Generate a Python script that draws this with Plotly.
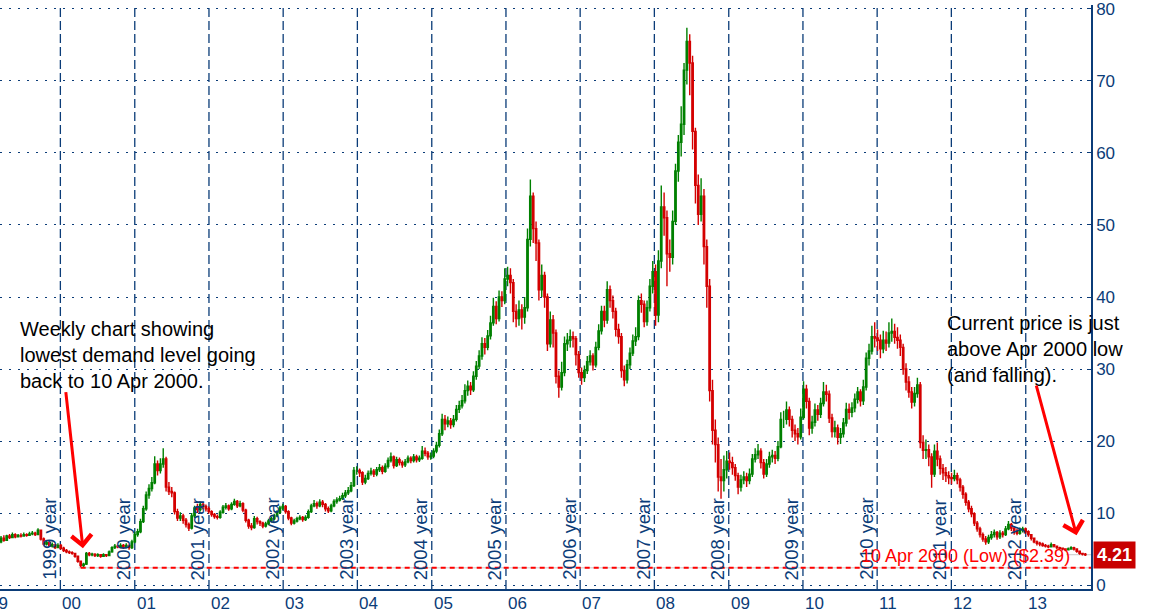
import pandas as pd
import plotly.graph_objects as go

# biweekly candles, first one on 15 Mar 1999, one row per calendar year
first_open = 6.0
closes = [
  6.5, 6.2, 6.8, 6.6, 7.0, 6.7, 6.9, 6.8, 7.0, 6.9, 7.1, 7.2, 7.0, 7.6, 6.4, 5.7, 5.9, 5.4, 5.6, 5.2, 5.5,  # 1999
  5.1, 4.8, 4.6, 4.5, 4.4, 4.0, 3.3, 2.7, 2.9, 4.4, 4.2, 4.3, 4.1, 4.2, 4.0, 4.2, 4.1, 4.6, 5.2, 5.4, 5.3, 5.5, 5.3, 5.5, 5.2, 6.0,  # 2000
  7.0, 7.4, 8.8, 10.6, 12.5, 13.4, 14.2, 16.8, 15.9, 16.8, 17.5, 13.6, 13.0, 12.8, 10.2, 9.3, 9.6, 9.0, 8.4, 7.9, 9.6, 10.7, 10.5, 11.2, 10.9, 10.6,  # 2001
  10.2, 9.8, 9.5, 9.4, 10.1, 10.8, 11.0, 10.6, 11.2, 11.6, 11.0, 11.3, 10.4, 9.0, 8.2, 8.0, 9.2, 8.8, 8.6, 8.2, 8.5, 8.9, 9.2, 9.6, 10.1, 10.7,  # 2002
  10.9, 10.2, 9.3, 8.6, 8.9, 9.2, 9.4, 9.1, 9.4, 10.2, 11.0, 11.3, 11.0, 11.5, 11.2, 10.6, 10.3, 11.0, 11.6, 11.8, 12.0, 12.4, 12.8, 13.1, 13.8, 15.9,  # 2003
  15.9, 15.6, 14.3, 14.8, 15.5, 15.8, 15.4, 16.0, 16.3, 15.8, 16.5, 17.3, 17.8, 16.6, 17.4, 17.0, 16.7, 17.1, 17.6, 17.3, 17.8, 17.4, 17.6, 18.6, 18.3, 17.8,  # 2004
  17.9, 18.6, 19.4, 21.0, 23.0, 22.4, 22.8, 22.3, 23.0, 24.4, 24.9, 25.6, 27.0, 27.6, 27.1, 29.0, 30.4, 31.8, 33.5, 33.0, 34.6, 36.4, 38.7, 37.0, 40.0, 39.5,  # 2005
  42.5, 43.0, 42.0, 38.0, 37.0, 38.2, 37.2, 38.5, 48.0, 54.0, 49.5, 47.5, 41.0, 43.0, 40.0, 33.5, 36.8, 35.0, 29.0, 27.5, 29.5, 33.5, 34.0, 34.5, 34.2, 32.0,  # 2006
  29.5, 28.8, 29.8, 31.0, 31.8, 30.6, 33.0, 35.3, 38.0, 36.8, 41.0, 39.5, 38.0, 35.5, 34.5, 29.8, 28.5, 30.6, 32.2, 33.9, 34.5, 39.5, 39.0, 36.6, 38.5, 41.5,  # 2007
  43.5, 37.5, 45.0, 52.5, 51.0, 46.0, 45.5, 50.5, 57.5, 61.5, 64.0, 71.5, 75.5, 72.5, 63.0, 55.5, 51.5, 54.0, 47.0, 41.5, 27.0, 21.5, 19.5, 15.0, 14.5, 16.0, 17.2,  # 2008
  17.0, 16.3, 15.2, 13.6, 14.6, 15.0, 14.5, 15.4, 17.5, 18.1, 18.6, 17.0, 15.4, 16.8, 17.8, 18.0, 17.6, 19.2, 23.0, 23.0, 24.3, 23.0, 21.5, 21.0, 20.6, 23.3,  # 2009
  27.2, 25.5, 21.8, 22.6, 24.3, 23.7, 25.2, 26.8, 26.5, 23.2, 21.3, 21.8, 20.5, 21.0, 22.5, 24.4, 24.0, 24.6, 25.8, 26.8, 25.6, 27.5, 31.5, 32.5, 34.5, 34.3,  # 2010
  34.0, 32.8, 34.0, 33.6, 35.0, 35.2, 34.4, 34.0, 33.0, 30.0, 28.2, 26.8, 25.4, 26.6, 27.8, 19.8, 18.7, 18.8, 17.8, 15.4, 18.6, 17.5, 16.2, 15.6, 15.2, 14.9,  # 2011
  14.8, 15.2, 14.6, 13.6, 12.6, 11.5, 10.6, 9.9, 8.6, 7.8, 7.0, 6.4, 6.0, 6.6, 7.0, 7.3, 6.7, 7.2, 7.0, 7.8, 8.4, 7.9, 7.4, 7.2, 7.6, 7.8,  # 2012
  7.4, 7.0, 6.5, 6.0, 5.8, 5.7, 5.5, 5.4, 5.3, 5.6, 5.4, 5.2, 5.1, 5.0, 4.9, 5.0, 5.2, 5.0, 4.7, 4.4, 4.3, 4.21,  # 2013
]
highs = [
  6.8, 6.9, 7.0, 7.1, 7.3, 7.2, 7.1, 7.2, 7.3, 7.2, 7.4, 7.5, 7.4, 7.9, 7.7, 6.6, 6.2, 6.0, 5.9, 5.7, 5.8,
  5.7, 5.3, 5.0, 4.8, 4.7, 4.5, 4.1, 3.4, 3.1, 4.6, 4.6, 4.5, 4.4, 4.4, 4.3, 4.4, 4.3, 4.8, 5.4, 5.7, 5.6, 5.8, 5.7, 5.8, 5.6, 6.3,
  7.4, 7.8, 9.2, 11.0, 13.0, 14.0, 15.0, 17.9, 17.3, 17.6, 19.0, 17.8, 14.3, 13.6, 13.0, 10.6, 10.1, 9.9, 9.3, 8.7, 10.0, 11.0, 11.3, 11.6, 11.5, 11.2,
  10.9, 10.4, 10.0, 9.8, 10.4, 11.1, 11.4, 11.2, 11.5, 12.0, 11.8, 11.7, 11.5, 10.6, 9.2, 8.6, 9.6, 9.5, 9.0, 8.8, 8.8, 9.2, 9.5, 9.9, 10.4, 11.0,
  11.3, 11.1, 10.4, 9.5, 9.2, 9.5, 9.7, 9.6, 9.7, 10.5, 11.3, 11.8, 11.6, 11.9, 11.8, 11.4, 10.9, 11.3, 11.9, 12.2, 12.4, 12.8, 13.2, 13.6, 14.3, 16.4,
  16.5, 16.2, 15.8, 15.3, 15.9, 16.3, 16.1, 16.4, 16.8, 16.6, 16.9, 17.7, 18.4, 18.0, 17.8, 17.7, 17.3, 17.5, 18.0, 17.9, 18.2, 18.1, 18.0, 19.3, 19.1, 18.6,
  18.4, 19.0, 19.9, 21.6, 23.8, 23.6, 23.4, 23.2, 23.6, 25.0, 25.6, 26.4, 27.9, 28.4, 28.2, 29.7, 31.1, 32.6, 34.4, 34.3, 35.4, 37.4, 39.9, 39.4, 40.9, 40.8,
  44.0, 44.2, 44.0, 42.5, 39.0, 39.5, 39.0, 40.0, 49.5, 56.3, 54.5, 50.5, 48.0, 44.5, 43.5, 40.5, 38.0, 37.5, 35.5, 29.8, 31.0, 34.5, 35.0, 35.5, 35.2, 34.6,
  32.5, 30.2, 30.5, 31.8, 32.6, 32.2, 33.8, 36.2, 38.8, 38.8, 42.2, 41.6, 40.2, 38.5, 36.3, 35.0, 30.5, 31.3, 33.0, 34.8, 35.8, 40.2, 40.5, 39.5, 39.5, 42.5,
  45.0, 44.5, 46.5, 55.5, 54.5, 52.0, 48.0, 52.0, 58.5, 62.5, 66.5, 72.5, 77.4, 76.5, 73.5, 63.5, 57.0, 56.5, 55.0, 48.0, 42.5, 28.5, 23.0, 20.5, 17.5, 18.0, 18.6,
  18.4, 17.8, 16.8, 15.6, 15.3, 15.8, 15.6, 16.2, 18.2, 19.0, 19.6, 19.0, 17.5, 17.5, 18.5, 18.8, 18.6, 20.0, 24.0, 24.2, 25.5, 24.8, 23.5, 22.3, 21.8, 24.5,
  28.3, 27.8, 26.0, 23.5, 25.2, 25.0, 26.0, 28.2, 27.8, 27.0, 23.8, 22.8, 22.3, 21.8, 23.2, 25.3, 25.2, 25.4, 26.6, 27.5, 27.2, 28.5, 32.3, 33.5, 36.0, 36.5,
  35.5, 34.8, 35.3, 35.2, 36.5, 37.0, 36.3, 35.8, 34.8, 33.5, 30.8, 29.0, 27.5, 27.5, 28.8, 28.2, 20.8, 20.2, 19.5, 18.3, 19.5, 19.8, 18.0, 16.8, 16.4, 15.8,
  15.6, 16.0, 15.6, 14.9, 13.9, 12.9, 11.8, 11.0, 10.1, 8.9, 8.1, 7.3, 6.8, 7.0, 7.5, 7.7, 7.5, 7.6, 7.5, 8.2, 8.9, 8.6, 8.1, 7.8, 8.0, 8.1,
  8.0, 7.6, 7.1, 6.6, 6.2, 6.0, 5.9, 5.7, 5.6, 5.9, 5.7, 5.5, 5.3, 5.2, 5.1, 5.2, 5.4, 5.3, 5.1, 4.8, 4.5, 4.45,
]
lows = [
  5.8, 6.0, 6.1, 6.4, 6.5, 6.5, 6.6, 6.6, 6.7, 6.7, 6.8, 6.9, 6.8, 6.9, 6.2, 5.5, 5.5, 5.3, 5.2, 5.0, 5.1,
  4.9, 4.6, 4.4, 4.3, 4.2, 3.8, 3.1, 2.39, 2.5, 2.8, 4.0, 4.0, 3.9, 3.9, 3.8, 3.9, 3.9, 4.0, 4.5, 5.0, 5.1, 5.1, 5.0, 5.1, 4.9, 5.0,
  5.8, 6.7, 7.2, 8.6, 10.3, 12.0, 13.0, 14.0, 15.2, 15.5, 16.3, 13.0, 12.5, 12.2, 9.8, 8.9, 8.9, 8.5, 8.0, 7.5, 7.7, 9.3, 10.0, 10.2, 10.5, 10.2,
  9.9, 9.5, 9.2, 9.1, 9.2, 9.9, 10.5, 10.3, 10.4, 11.0, 10.7, 10.8, 10.1, 8.7, 7.8, 7.6, 7.8, 8.4, 8.2, 7.9, 8.0, 8.3, 8.7, 9.0, 9.4, 9.9,
  10.4, 9.9, 9.0, 8.3, 8.4, 8.7, 9.0, 8.8, 8.9, 9.2, 10.0, 10.8, 10.6, 10.8, 10.8, 10.2, 10.0, 10.1, 10.8, 11.3, 11.6, 11.8, 12.1, 12.5, 12.9, 13.6,
  15.3, 15.0, 13.9, 14.0, 14.6, 15.2, 15.0, 15.1, 15.7, 15.4, 15.6, 16.2, 17.0, 16.2, 16.4, 16.6, 16.3, 16.4, 16.9, 16.9, 17.0, 17.0, 17.1, 17.4, 17.9, 17.4,
  17.4, 17.6, 18.3, 19.1, 20.7, 21.5, 21.9, 21.7, 21.9, 22.7, 23.9, 24.5, 25.2, 26.3, 26.4, 26.8, 28.5, 30.0, 31.3, 32.0, 32.6, 34.1, 36.0, 36.2, 36.6, 38.6,
  39.0, 41.5, 40.5, 36.5, 35.8, 36.0, 35.5, 36.3, 38.0, 47.0, 47.5, 45.0, 39.5, 40.0, 38.5, 32.5, 33.0, 33.0, 28.0, 26.0, 27.0, 29.0, 32.5, 33.0, 33.0, 30.5,
  28.8, 27.8, 28.2, 29.3, 30.5, 29.8, 30.2, 32.6, 34.8, 35.8, 36.3, 38.5, 37.0, 34.5, 33.5, 28.8, 27.6, 28.0, 30.0, 31.8, 33.2, 34.0, 37.8, 35.8, 36.0, 38.0,
  40.5, 36.0, 36.5, 44.0, 48.5, 41.5, 43.5, 44.5, 50.0, 56.0, 59.5, 62.5, 69.5, 68.0, 60.5, 53.0, 50.0, 50.5, 44.5, 38.5, 25.5, 19.5, 17.0, 13.0, 12.0, 13.0, 14.8,
  16.0, 15.3, 14.5, 12.6, 13.0, 14.0, 13.6, 14.0, 15.0, 17.0, 17.5, 16.2, 14.8, 15.0, 16.3, 17.0, 16.8, 17.2, 19.0, 21.8, 22.3, 22.0, 20.5, 20.0, 19.5, 20.2,
  23.0, 24.5, 20.8, 21.0, 22.0, 22.8, 23.2, 24.8, 25.5, 22.5, 20.5, 20.5, 19.5, 19.6, 20.5, 22.0, 23.0, 23.3, 24.0, 25.2, 24.8, 25.0, 27.0, 30.5, 32.0, 33.0,
  32.5, 31.5, 32.2, 32.5, 33.0, 33.8, 33.5, 32.8, 31.8, 29.2, 27.0, 26.0, 24.5, 24.8, 26.0, 19.0, 17.5, 17.5, 16.5, 13.5, 15.0, 16.5, 15.3, 14.6, 14.3, 14.0,
  14.0, 14.4, 14.0, 13.0, 12.0, 11.0, 10.1, 9.4, 8.2, 7.4, 6.6, 6.0, 5.6, 5.7, 6.3, 6.6, 6.3, 6.4, 6.6, 6.8, 7.6, 7.5, 7.0, 6.9, 7.0, 7.3,
  7.1, 6.7, 6.2, 5.8, 5.5, 5.4, 5.3, 5.2, 5.1, 5.2, 5.2, 5.0, 4.9, 4.8, 4.7, 4.8, 4.9, 4.8, 4.5, 4.2, 4.1, 4.05,
]
opens = [first_open] + closes[:-1]
dates = pd.date_range("1999-03-15", periods=len(closes), freq="14D")

low_date = "2000-04-10"
low_price = 2.39
last_price = 4.21
label_years = list(range(1999, 2013))
tick_years = list(range(2000, 2014))

navy = "#0b3c78"
green = "#008000"
red = "#d40000"
font = "Arial, 'Liberation Sans', sans-serif"

fig = go.Figure(go.Candlestick(
  x=dates, open=opens, high=highs, low=lows, close=closes,
  increasing=dict(line=dict(color=green, width=1.4), fillcolor=green),
  decreasing=dict(line=dict(color=red, width=1.4), fillcolor=red),
  whiskerwidth=0, hoverinfo="skip", showlegend=False,
))

shapes = []
for y in tick_years:
  shapes.append(dict(type="line", xref="x", yref="paper", x0=f"{y}-01-01", x1=f"{y}-01-01", y0=0, y1=1,
                     line=dict(color=navy, width=1.3, dash="9px,4px"), layer="below"))
# April 2000 low and last price guide
shapes.append(dict(type="line", xref="x", yref="y", x0="2000-03-31", x1="2014-01-01", y0=low_price, y1=low_price,
                   line=dict(color="#c8c8c8", width=1)))
shapes.append(dict(type="line", xref="x", yref="y", x0="2013-07-20", x1="2014-01-01", y0=last_price, y1=last_price,
                   line=dict(color="#c8c8c8", width=1), layer="below"))
shapes.append(dict(type="line", xref="x", yref="y", x0=low_date, x1="2014-01-01", y0=low_price, y1=low_price,
                   line=dict(color="#ff0000", width=2, dash="5px,4px")))

ann = []
for y in label_years:
  ann.append(dict(text=f"{y} year", x=f"{y + 1}-01-01", xref="x", y=0, yref="paper", xanchor="right", yanchor="bottom",
                  textangle=-90, yshift=7, xshift=1, showarrow=False, font=dict(size=18.5, color=navy, family=font)))
for y in tick_years:
  ann.append(dict(text=f"{y % 100:02d}", x=f"{y}-01-01", xref="x", y=0, yref="paper", xanchor="left", yanchor="top",
                  yshift=-3, showarrow=False, font=dict(size=17, color=navy, family=font)))
ann.append(dict(text="99", x=-0.0115, xref="paper", y=0, yref="paper", xanchor="left", yanchor="top",
                yshift=-3, showarrow=False, font=dict(size=17, color=navy, family=font)))

ann.append(dict(text="Weekly chart showing<br>lowest demand level going<br>back to 10 Apr 2000.", align="left",
                x=0.0165, xref="paper", y=37.4, yref="y", xanchor="left", yanchor="top", showarrow=False,
                font=dict(size=20, color="black", family=font)))
ann.append(dict(text="Current price is just<br>above Apr 2000 low<br>(and falling).", align="left",
                x=0.866, xref="paper", y=38.2, yref="y", xanchor="left", yanchor="top", showarrow=False,
                font=dict(size=20, color="black", family=font)))
ann.append(dict(text="", x="2000-04-21", y=5.1, ax="2000-01-27", ay=27.0, xref="x", yref="y", axref="x", ayref="y",
                showarrow=True, arrowhead=4, arrowsize=1.3, arrowwidth=3, arrowcolor="#ff0000"))
ann.append(dict(text="", x="2013-09-08", y=6.9, ax="2013-02-20", ay=27.9, xref="x", yref="y", axref="x", ayref="y",
                showarrow=True, arrowhead=4, arrowsize=1.3, arrowwidth=3, arrowcolor="#ff0000"))
ann.append(dict(text=f"10 Apr 2000 (Low) (${low_price})", x=1072 / 1091, xref="paper", y=low_price, yref="y",
                xanchor="right", yanchor="bottom", yshift=0, showarrow=False, font=dict(size=18, color="#ff0000", family=font)))
ann.append(dict(text=f"<b>{last_price}</b>", x=1, xref="paper", y=last_price, yref="y", xanchor="left", yanchor="middle",
                xshift=2, showarrow=False, bgcolor="#c80000", borderpad=3,
                font=dict(size=18, color="white", family=font)))

fig.update_layout(
  width=1160, height=614, margin=dict(l=0, r=69, t=0, b=25),
  paper_bgcolor="white", plot_bgcolor="white", showlegend=False,
  font=dict(family=font, color=navy),
  shapes=shapes, annotations=ann,
  xaxis=dict(type="date", range=["1999-03-10", "2013-11-18"], showgrid=False, showticklabels=False,
             showline=True, linecolor=navy, linewidth=2, ticks="", rangeslider=dict(visible=False), zeroline=False),
  yaxis=dict(side="right", range=[-0.55, 80.55], tickvals=list(range(0, 81, 10)), showgrid=True,
             gridcolor=navy, gridwidth=1, griddash="2px,7px", zeroline=False, showline=True, linecolor=navy,
             linewidth=1.5, ticks="inside", ticklen=4, tickcolor=navy, ticklabeloverflow="allow",
             tickfont=dict(size=17, color=navy, family=font)),
)

fig.write_html("out.html", config={"displayModeBar": False}, post_script="document.body.style.margin='0';")
